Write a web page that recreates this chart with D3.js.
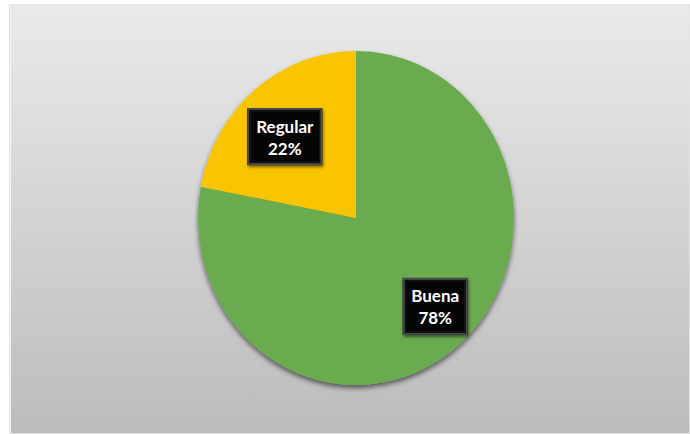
<!DOCTYPE html>
<html>
<head>
<meta charset="utf-8">
<script src="https://cdn.jsdelivr.net/npm/d3@7"></script>
<style>
  html, body { margin: 0; padding: 0; background: #ffffff; }
  svg { display: block; }
</style>
</head>
<body>
<svg id="chart" width="690" height="434"></svg>
<script>
// Rating categories and their share of responses (percent)
const categories = ["Buena", "Regular"];
const values = [78, 22];
const colors = ["#6aab4f", "#f8c500"];

const W = 690, H = 434;
const svg = d3.select("#chart");
const defs = svg.append("defs");

// Chart area background: light-to-darker grey vertical gradient
const bg = defs.append("linearGradient").attr("id", "bgGrad")
  .attr("x1", 0).attr("y1", 0).attr("x2", 0).attr("y2", 1);
bg.append("stop").attr("offset", "0%").attr("stop-color", "#eaeaea");
bg.append("stop").attr("offset", "100%").attr("stop-color", "#bcbcbc");

// Soft shadow beneath the pie
const sh = defs.append("filter").attr("id", "pieShadow")
  .attr("x", "-20%").attr("y", "-20%").attr("width", "140%").attr("height", "140%");
sh.append("feDropShadow").attr("dx", 0).attr("dy", 3).attr("stdDeviation", 2.5)
  .attr("flood-color", "#000").attr("flood-opacity", 0.55);

// Shadow beneath the label boxes
const lsh = defs.append("filter").attr("id", "lblShadow")
  .attr("x", "-20%").attr("y", "-20%").attr("width", "140%").attr("height", "140%");
lsh.append("feDropShadow").attr("dx", 1).attr("dy", 2).attr("stdDeviation", 1.5)
  .attr("flood-color", "#000").attr("flood-opacity", 0.5);

// Frame
svg.append("rect").attr("x", 9.5).attr("y", 4.5).attr("width", 680).attr("height", 429)
  .attr("fill", "#f4f4f4").attr("stroke", "#e4e4e4");
svg.append("rect").attr("x", 11).attr("y", 5).attr("width", 678).attr("height", 428)
  .attr("fill", "url(#bgGrad)");

// Pie geometry (slightly taller than wide)
const cx = 356, cy = 218, rx = 158, ry = 167;
const sy = ry / rx;

const pie = d3.pie().sort(null).value(d => d.value);
const data = pie(categories.map((c, i) => ({ name: c, value: values[i], color: colors[i] })));
const arc = d3.arc().innerRadius(0).outerRadius(rx);

const g = svg.append("g")
  .attr("transform", `translate(${cx},${cy}) scale(1,${sy})`)
  .attr("filter", "url(#pieShadow)");

g.selectAll("path").data(data).join("path")
  .attr("d", arc)
  .attr("fill", d => d.data.color);

// Data labels: black bevelled boxes with name and percent
const labelArc = d3.arc().innerRadius(rx * 1.45).outerRadius(0);
const total = d3.sum(values);
const lblCx = cx + 4, lblCy = cy + 3.5;

const lbl = svg.append("g").selectAll("g").data(data).join("g")
  .attr("transform", d => {
    const [x, y] = labelArc.centroid(d);
    return `translate(${lblCx + x * 1.03},${lblCy + y * sy * 0.91})`;
  });

const boxW = d => d.data.name.length > 5 ? 75 : 65;
const boxH = 57;

lbl.append("rect")
  .attr("x", d => -boxW(d) / 2).attr("y", -boxH / 2)
  .attr("width", boxW).attr("height", boxH)
  .attr("fill", "#000").attr("filter", "url(#lblShadow)");
// bevel edges
lbl.append("rect")
  .attr("x", d => -boxW(d) / 2 + 1).attr("y", -boxH / 2 + 1)
  .attr("width", d => boxW(d) - 2).attr("height", boxH - 2)
  .attr("fill", "none").attr("stroke", "#4a4a4a").attr("stroke-width", 2);
lbl.append("rect")
  .attr("x", d => -boxW(d) / 2 + 3).attr("y", -boxH / 2 + 3)
  .attr("width", d => boxW(d) - 6).attr("height", boxH - 6)
  .attr("fill", "#050505").attr("stroke", "#1c1c1c").attr("stroke-width", 1);

lbl.append("text")
  .attr("text-anchor", "middle").attr("y", -4)
  .attr("fill", "#ffffff")
  .attr("font-family", "Lato, 'Open Sans', sans-serif")
  .attr("font-weight", "bold").attr("font-size", 17)
  .text(d => d.data.name);
lbl.append("text")
  .attr("text-anchor", "middle").attr("y", 18)
  .attr("fill", "#ffffff")
  .attr("font-family", "Lato, 'Open Sans', sans-serif")
  .attr("font-weight", "bold").attr("font-size", 17)
  .text(d => Math.round(d.data.value / total * 100) + "%");
</script>
</body>
</html>
